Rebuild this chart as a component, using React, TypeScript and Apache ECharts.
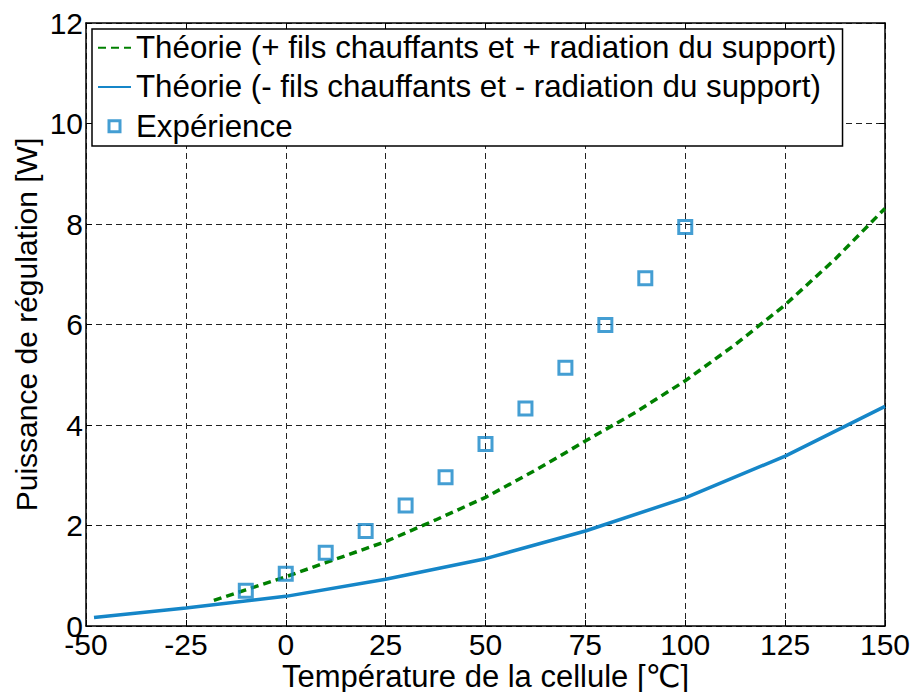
import React, { useEffect, useRef } from "react";
import * as echarts from "echarts";

// Cell temperature (°C) and regulation power (W)
const expTemps = [-10, 0, 10, 20, 30, 40, 50, 60, 70, 80, 90, 100];
const expPower = [0.7, 1.04, 1.46, 1.89, 2.4, 2.96, 3.62, 4.33, 5.14, 5.99, 6.92, 7.94];

const plusTemps = [-18, -10, 0, 10, 20, 25, 37.5, 50, 62.5, 75, 87.5, 100, 112.5, 125, 137.5, 150];
const plusPower = [0.51, 0.72, 0.98, 1.26, 1.54, 1.68, 2.11, 2.56, 3.1, 3.68, 4.25, 4.88, 5.6, 6.39, 7.3, 8.31];

const minusTemps = [-48, -25, 0, 25, 50, 75, 100, 125, 150];
const minusPower = [0.17, 0.36, 0.59, 0.93, 1.34, 1.89, 2.55, 3.38, 4.37];

const seriesNames = [
  "Théorie (+ fils chauffants et + radiation du support)",
  "Théorie (- fils chauffants et - radiation du support)",
  "Expérience",
];

const FONT = "'Liberation Sans', Arial, 'DejaVu Sans', 'Noto Sans CJK SC', sans-serif";
const GREEN = "#008000";
const BLUE = "#1586c8";

const pairs = (xs: number[], ys: number[]) => xs.map((x, i) => [x, ys[i]]);

// line-only legend icon: hide the marker drawn in the middle of the line
const hiddenMarker = { color: "transparent", borderColor: "transparent", borderWidth: 0 };

export default function App() {
  const ref = useRef<HTMLDivElement>(null);

  useEffect(() => {
    if (!ref.current) return;
    const chart = echarts.init(ref.current, undefined, { renderer: "svg" });

    const frameLine = { show: true, onZero: false, lineStyle: { color: "#000", width: 1.5 } };
    const innerTick = { show: true, inside: true, length: 6, lineStyle: { color: "#000", width: 1 } };
    const grid = { show: true, lineStyle: { color: "#222", width: 1, type: [6, 4] as number[] } };
    const tickLabel = { color: "#000", fontSize: 30, fontFamily: FONT, lineHeight: 24 };

    chart.setOption({
      animation: false,
      backgroundColor: "#fff",
      grid: {
        left: 86,
        right: 28,
        top: 23,
        bottom: 66,
        containLabel: false,
        outerBoundsMode: "none",
      },
      legend: {
        orient: "vertical",
        left: 92,
        top: 29,
        padding: [3, 6, 4, 5],
        itemGap: 8,
        itemWidth: 33,
        itemHeight: 11,
        backgroundColor: "#fff",
        borderColor: "#000",
        borderWidth: 1.5,
        borderRadius: 0,
        textStyle: { color: "#000", fontSize: 31.3, fontFamily: FONT },
        data: [
          { name: seriesNames[0], itemStyle: hiddenMarker },
          { name: seriesNames[1], itemStyle: hiddenMarker },
          {
            name: seriesNames[2],
            icon: "path://M0,0L10,0L10,10L0,10Z",
            itemStyle: { color: "transparent", borderColor: BLUE, borderWidth: 3 },
          },
        ],
      },
      xAxis: [
        {
          type: "value",
          min: -50,
          max: 150,
          interval: 25,
          position: "bottom",
          axisLine: frameLine,
          axisTick: innerTick,
          axisLabel: { ...tickLabel, margin: 6 },
          splitLine: grid,
          name: "Température de la cellule [℃]",
          nameLocation: "middle",
          nameGap: 37,
          nameMoveOverlap: false,
          nameTextStyle: { color: "#000", fontSize: 31, fontFamily: FONT, lineHeight: 26 },
        },
        {
          type: "value",
          min: -50,
          max: 150,
          interval: 25,
          position: "top",
          axisLine: frameLine,
          axisTick: innerTick,
          axisLabel: { show: false },
          splitLine: { show: false },
        },
      ],
      yAxis: [
        {
          type: "value",
          min: 0,
          max: 12,
          interval: 2,
          position: "left",
          axisLine: frameLine,
          axisTick: innerTick,
          axisLabel: { ...tickLabel, margin: 3 },
          splitLine: grid,
          name: "Puissance de régulation [W]",
          nameLocation: "middle",
          nameGap: 45,
          nameMoveOverlap: false,
          nameTextStyle: { color: "#000", fontSize: 30, fontFamily: FONT },
        },
        {
          type: "value",
          min: 0,
          max: 12,
          interval: 2,
          position: "right",
          axisLine: frameLine,
          axisTick: innerTick,
          axisLabel: { show: false },
          splitLine: { show: false },
        },
      ],
      series: [
        {
          name: seriesNames[0],
          type: "line",
          data: pairs(plusTemps, plusPower),
          symbol: "none",
          lineStyle: { color: GREEN, width: 3.5, type: [8, 5] },
          itemStyle: { color: GREEN },
          z: 3,
        },
        {
          name: seriesNames[1],
          type: "line",
          data: pairs(minusTemps, minusPower),
          symbol: "none",
          lineStyle: { color: BLUE, width: 3.5, type: "solid" },
          itemStyle: { color: BLUE },
          z: 3,
        },
        {
          name: seriesNames[2],
          type: "scatter",
          data: pairs(expTemps, expPower),
          symbol: "rect",
          symbolSize: 13,
          itemStyle: { color: "transparent", borderColor: BLUE, borderWidth: 3 },
          z: 4,
        },
      ],
    });

    return () => chart.dispose();
  }, []);

  return (
    <div
      ref={ref}
      style={{ position: "fixed", left: 0, top: 0, width: 913, height: 692 }}
    />
  );
}
